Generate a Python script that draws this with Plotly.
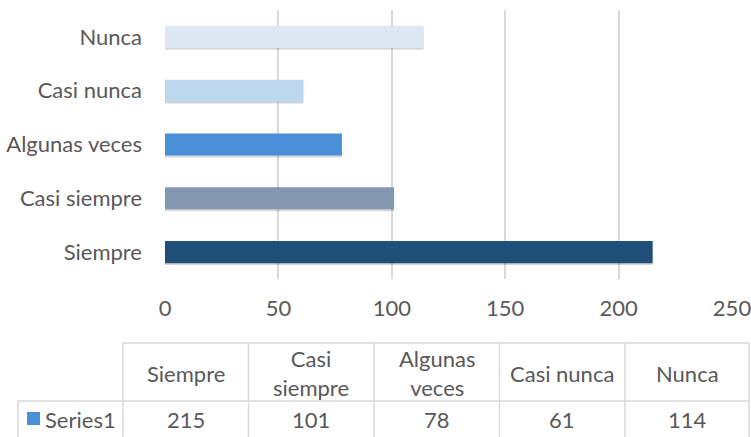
import plotly.graph_objects as go

categories = ["Siempre", "Casi siempre", "Algunas veces", "Casi nunca", "Nunca"]
header_labels = ["Siempre", "Casi<br>siempre", "Algunas<br>veces", "Casi nunca", "Nunca"]
values = [215, 101, 78, 61, 114]
bar_colors = ["#1F4E79", "#8497B0", "#4A90D9", "#BDD7EE", "#DDE8F4"]
series_name = "Series1"
x_ticks = [0, 50, 100, 150, 200, 250]

W, H = 751, 437
L, R, T, B = 165, 19, 10, 158
pw, ph = W - L - R, H - T - B

def px(x):
    return (x - L) / pw

def py(y):
    return (H - B - y) / ph

FONT = "Lato"
FS = 22
TXT = "#595959"
GRID = "#D9D9D9"

fig = go.Figure()
# soft shadow
fig.add_trace(go.Bar(
    y=categories, x=values, orientation="h",
    marker=dict(color="rgba(0,0,0,0.16)", line=dict(width=0)),
    width=0.41, offset=-0.24, hoverinfo="skip", showlegend=False,
))
fig.add_trace(go.Bar(
    y=categories, x=values, orientation="h",
    marker=dict(color=bar_colors, line=dict(width=0)),
    width=0.41, showlegend=False, name=series_name,
))

fig.update_layout(
    width=W, height=H,
    margin=dict(l=L, r=R, t=T, b=B),
    paper_bgcolor="white", plot_bgcolor="white",
    barmode="overlay",
    font=dict(family=FONT, size=FS, color=TXT),
    xaxis=dict(range=[0, 250], tickvals=x_ticks, showgrid=True, gridcolor=GRID,
               gridwidth=1.5, zeroline=False, showline=False, automargin=False,
               ticklabeloverflow="allow",
               ticks="", ticklabelstandoff=14, tickfont=dict(size=FS, color=TXT)),
    yaxis=dict(categoryorder="array", categoryarray=categories, showgrid=False,
               zeroline=False, showline=False, ticks="", ticklabelstandoff=22,
               automargin=False, tickfont=dict(size=FS, color=TXT)),
)

shapes = []
# table geometry (pixels)
col_edges = [123, 248.5, 374, 499.5, 625, 749]
hdr_top, row_top, row_bot = 343, 401, 438
first_left = 18
line = dict(color=GRID, width=1.5)
def hline(x0, x1, y):
    shapes.append(dict(type="line", xref="paper", yref="paper",
                       x0=px(x0), x1=px(x1), y0=py(y), y1=py(y), line=line))
def vline(x, y0, y1):
    shapes.append(dict(type="line", xref="paper", yref="paper",
                       x0=px(x), x1=px(x), y0=py(y0), y1=py(y1), line=line))
hline(col_edges[0], col_edges[-1], hdr_top)
hline(first_left, col_edges[-1], row_top)
hline(first_left, col_edges[-1], row_bot)
vline(first_left, row_top, row_bot)
for ce in col_edges:
    vline(ce, hdr_top, row_bot)
# legend key
shapes.append(dict(type="rect", xref="paper", yref="paper",
                   x0=px(27), x1=px(40), y0=py(412), y1=py(425),
                   fillcolor="#4A90D9", line=dict(width=0)))

annotations = []
for i, (h, v) in enumerate(zip(header_labels, values)):
    cx = (col_edges[i] + col_edges[i + 1]) / 2
    annotations.append(dict(x=px(cx), y=py((hdr_top + row_top) / 2 + 1), xref="paper", yref="paper",
                            text=h, showarrow=False, xanchor="center", yanchor="middle",
                            font=dict(size=FS, color=TXT, family=FONT)))
    annotations.append(dict(x=px(cx), y=py(419), xref="paper", yref="paper",
                            text=str(v), showarrow=False, xanchor="center", yanchor="middle",
                            font=dict(size=FS, color=TXT, family=FONT)))
annotations.append(dict(x=px(43), y=py(419), xref="paper", yref="paper",
                        text=series_name, showarrow=False, xanchor="left", yanchor="middle",
                        font=dict(size=FS, color=TXT, family=FONT)))

fig.update_layout(shapes=shapes, annotations=annotations)
fig.write_html("out.html", config={"displayModeBar": False},
               post_script="document.body.style.margin='0';document.body.style.overflow='hidden';")
